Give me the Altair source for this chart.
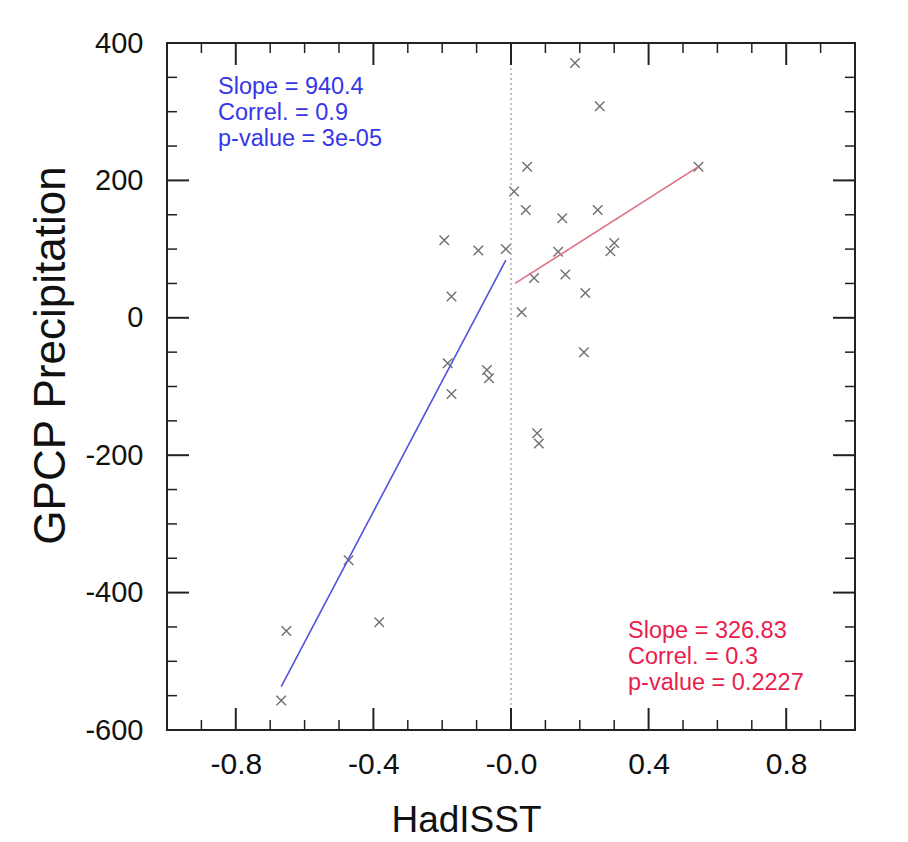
import altair as alt
import pandas as pd

# ---- data ----
sst = [-0.668, -0.653, -0.472, -0.383, -0.194, -0.184, -0.173, -0.173, -0.095, -0.070, -0.064, -0.015,
       0.009, 0.031, 0.043, 0.047, 0.067, 0.076, 0.081, 0.137, 0.149, 0.158, 0.186, 0.212, 0.216,
       0.252, 0.258, 0.289, 0.300, 0.545]
precip = [-557, -456, -353, -443, 113, -66, 31, -111, 98, -76, -88, 100,
          184, 8, 157, 220, 58, -168, -183, 96, 145, 63, 371, -50, 36,
          157, 308, 97, 109, 220]

blue_line_x = [-0.668, -0.015]
blue_line_y = [-537, 84]
red_line_x = [0.012, 0.545]
red_line_y = [50, 220]

blue_stats = ["Slope = 940.4", "Correl. = 0.9", "p-value = 3e-05"]
red_stats = ["Slope = 326.83", "Correl. = 0.3", "p-value = 0.2227"]

x_major = [-0.8, -0.4, 0.0, 0.4, 0.8]
x_minor = [-0.9, -0.7, -0.6, -0.5, -0.3, -0.2, -0.1, 0.1, 0.2, 0.3, 0.5, 0.6, 0.7, 0.9]
y_major = [-400, -200, 0, 200]
y_minor = [-550, -500, -450, -350, -300, -250, -150, -100, -50, 50, 100, 150, 250, 300, 350]
x_labels = [-0.8, -0.4, 0.0, 0.4, 0.8]
y_labels = [-600, -400, -200, 0, 200, 400]

# ---- layout ----
W, H = 688, 687
FONT = "Liberation Sans"
xs = alt.Scale(domain=[-1, 1], nice=False, zero=False)
ys = alt.Scale(domain=[-600, 400], nice=False, zero=False)

ax_x = alt.Axis(
    values=x_labels, grid=False, ticks=False, tickSize=0, domain=False,
    labelExpr="datum.value == 0 ? '-0.0' : (datum.value < 0 ? '-' : '') + format(abs(datum.value), '.1f')",
    labelFont=FONT, labelFontSize=30, labelColor="#111111", labelPadding=19,
    labelFlush=False, labelOverlap=False,
    title="HadISST", titleFont=FONT, titleFontSize=37, titleFontWeight="normal",
    titleColor="#111111", titleX=299, titleY=101, titleAlign="center",
    titleBaseline="alphabetic")
ax_y = alt.Axis(
    values=y_labels, grid=False, ticks=False, tickSize=0, domain=False,
    labelExpr="(datum.value < 0 ? '-' : '') + format(abs(datum.value), 'd')",
    labelFont=FONT, labelFontSize=29, labelColor="#111111", labelPadding=24,
    labelFlush=False, labelOverlap=False,
    title="GPCP Precipitation", titleFont=FONT, titleFontSize=44,
    titleFontWeight="normal", titleColor="#111111", titleAngle=270,
    titleX=-103, titleY=312, titleAlign="center", titleBaseline="alphabetic")


def X(field):
    return alt.X(field, type="quantitative", scale=xs, axis=ax_x)


def Y(field):
    return alt.Y(field, type="quantitative", scale=ys, axis=ax_y)


pts = pd.DataFrame({"sst": sst, "precip": precip})

xpath = "M-1,-1L1,1M-1,1L1,-1"
points = alt.Chart(pts).mark_point(
    shape=xpath, filled=False, size=90, stroke="#333333", strokeWidth=1.4
).encode(x=X("sst"), y=Y("precip"))

zero_line = alt.Chart(pd.DataFrame({"z": [0.0]})).mark_rule(
    color="#9a9a9a", strokeWidth=1.2, strokeDash=[2, 3]
).encode(x=X("z"))

blue_line = alt.Chart(pd.DataFrame({"x": blue_line_x, "y": blue_line_y})).mark_line(
    color="#5252dd", strokeWidth=1.6
).encode(x=X("x"), y=Y("y"))

red_line = alt.Chart(pd.DataFrame({"x": red_line_x, "y": red_line_y})).mark_line(
    color="#df7080", strokeWidth=1.6
).encode(x=X("x"), y=Y("y"))

one = pd.DataFrame({"a": [0]})
blue_text = alt.Chart(one).mark_text(
    align="left", baseline="alphabetic", font=FONT, fontSize=23.5, lineHeight=26,
    color="#3636e8"
).encode(x=alt.value(51), y=alt.value(51), text=alt.value(blue_stats))

red_text = alt.Chart(one).mark_text(
    align="left", baseline="alphabetic", font=FONT, fontSize=23.5, lineHeight=26,
    color="#ea1d4c"
).encode(x=alt.value(461), y=alt.value(595), text=alt.value(red_stats))


def xticks(vals, length, width, top):
    d = pd.DataFrame({"v": vals})
    if top:
        yy, yy2 = 0, length
    else:
        yy, yy2 = H, H - length
    return alt.Chart(d).mark_rule(color="#222222", strokeWidth=width).encode(
        x=X("v"), y=alt.value(yy), y2=alt.value(yy2))


def yticks(vals, length, width, right):
    d = pd.DataFrame({"v": vals})
    if right:
        xx, xx2 = W, W - length
    else:
        xx, xx2 = 0, length
    return alt.Chart(d).mark_rule(color="#222222", strokeWidth=width).encode(
        y=Y("v"), x=alt.value(xx), x2=alt.value(xx2))


tick_layers = [
    xticks(x_major, 22, 2, False), xticks(x_minor, 10, 1.5, False),
    xticks(x_major, 22, 2, True), xticks(x_minor, 10, 1.5, True),
    yticks(y_major, 22, 2, False), yticks(y_minor, 10, 1.5, False),
    yticks(y_major, 22, 2, True), yticks(y_minor, 10, 1.5, True),
]

chart = alt.layer(
    points, zero_line, blue_line, red_line, blue_text, red_text, *tick_layers
).properties(
    width=W, height=H,
    autosize=alt.AutoSizeParams(type="none"),
    padding={"left": 159, "top": 35, "right": 45, "bottom": 110},
).configure_view(stroke="#222222", strokeWidth=2)

chart.save("out.html", embed_options={"renderer": "svg", "actions": False})
